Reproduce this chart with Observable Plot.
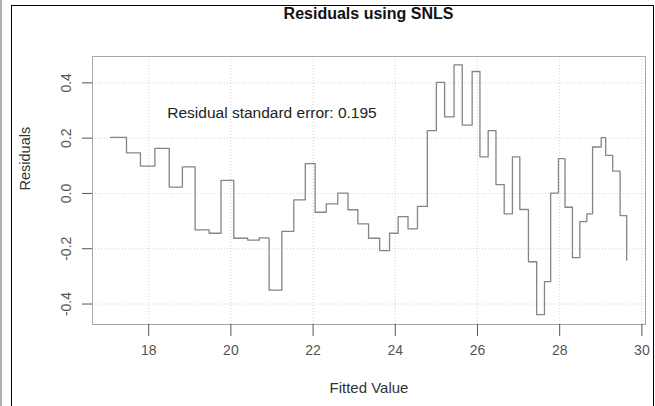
<!DOCTYPE html>
<html><head><meta charset="utf-8">
<script src="https://cdn.jsdelivr.net/npm/d3@7"></script>
<script src="https://cdn.jsdelivr.net/npm/@observablehq/plot@0.6"></script>
<style>
body{margin:0;background:#fff;}
#wrap{position:relative;width:655px;height:406px;overflow:hidden;font-family:"Liberation Sans",Arial,sans-serif;background:#fff;}
#wrap svg{position:absolute;left:0;top:0;}
#title{position:absolute;left:92px;width:553px;top:5px;line-height:18px;text-align:center;font-weight:bold;font-size:16px;color:#111;}
#border{position:absolute;left:11px;top:5px;width:643px;height:430px;border:1px solid #000;box-sizing:border-box;}
#edge{position:absolute;left:0;top:0;width:2px;height:406px;background:#b0b0b0;}
</style></head><body>
<div id="wrap"><div id="edge"></div><div id="border"></div></div>
<script>
const fitted = [17.07, 17.46, 17.80, 18.15, 18.50, 18.82, 19.13, 19.47, 19.76, 20.07, 20.41, 20.69, 20.93, 21.24, 21.53, 21.81, 22.05, 22.32, 22.60, 22.85, 23.09, 23.35, 23.62, 23.86, 24.07, 24.31, 24.54, 24.78, 25.00, 25.20, 25.43, 25.63, 25.87, 26.06, 26.26, 26.45, 26.65, 26.85, 27.03, 27.24, 27.44, 27.63, 27.78, 27.97, 28.13, 28.31, 28.49, 28.66, 28.80, 29.01, 29.12, 29.29, 29.47, 29.63];
const residuals = [0.203, 0.147, 0.099, 0.163, 0.023, 0.096, -0.132, -0.144, 0.047, -0.162, -0.169, -0.161, -0.350, -0.137, -0.023, 0.108, -0.068, -0.038, 0.001, -0.059, -0.110, -0.162, -0.207, -0.144, -0.084, -0.128, -0.047, 0.227, 0.402, 0.277, 0.465, 0.247, 0.441, 0.132, 0.227, 0.032, -0.074, 0.132, -0.058, -0.247, -0.438, -0.319, 0.001, 0.126, -0.050, -0.232, -0.102, -0.074, 0.168, 0.202, 0.138, 0.081, -0.080, -0.241];
const xTicks = [18, 20, 22, 24, 26, 28, 30];
const yTicks = [-0.4, -0.2, 0.0, 0.2, 0.4];
const titleText = "Residuals using SNLS";
const xLabel = "Fitted Value";
const yLabel = "Residuals";
const annotation = [{x: 21, y: 0.29, label: "Residual standard error: 0.195"}];

const data = fitted.map((x, i) => ({x, y: residuals[i]}));
const font = '"Liberation Sans", Arial, sans-serif';

const chart = Plot.plot({
  width: 655, height: 406,
  marginLeft: 92, marginRight: 10, marginTop: 56, marginBottom: 82,
  style: {fontFamily: font, fontSize: "14px", background: "transparent", overflow: "visible"},
  x: {domain: [16.633, 30.088]},
  y: {domain: [-0.474, 0.4953]},
  marks: [
    Plot.gridX(xTicks, {stroke: "#d4d4d4", strokeOpacity: 1, strokeDasharray: "1 2"}),
    Plot.gridY(yTicks, {stroke: "#d4d4d4", strokeOpacity: 1, strokeDasharray: "1 2"}),
    Plot.frame({stroke: "#a8a8a8"}),
    Plot.line(data, {x: "x", y: "y", curve: "step-after", stroke: "#858585", strokeWidth: 1.3}),
    Plot.text(annotation, {x: "x", y: "y", text: "label", fontSize: 15.5, fill: "#222"}),
    Plot.axisX(xTicks, {tickSize: 12, tickPadding: 9, label: null, color: "#555", fontSize: 14}),
    Plot.axisY(yTicks, {tickSize: 10, tickPadding: 12, tickRotate: -90, tickFormat: d => d.toFixed(1), label: null, color: "#555", fontSize: 14}),
    Plot.text([xLabel], {frameAnchor: "bottom", dy: 68, fontSize: 15, fill: "#333"}),
    Plot.text([yLabel], {frameAnchor: "left", dx: -67, rotate: -90, fontSize: 14.5, fill: "#333"})
  ]
});
const wrap = document.getElementById("wrap");
wrap.appendChild(chart);
const t = document.createElement("div");
t.id = "title";
t.textContent = titleText;
wrap.appendChild(t);
</script>
</body></html>
